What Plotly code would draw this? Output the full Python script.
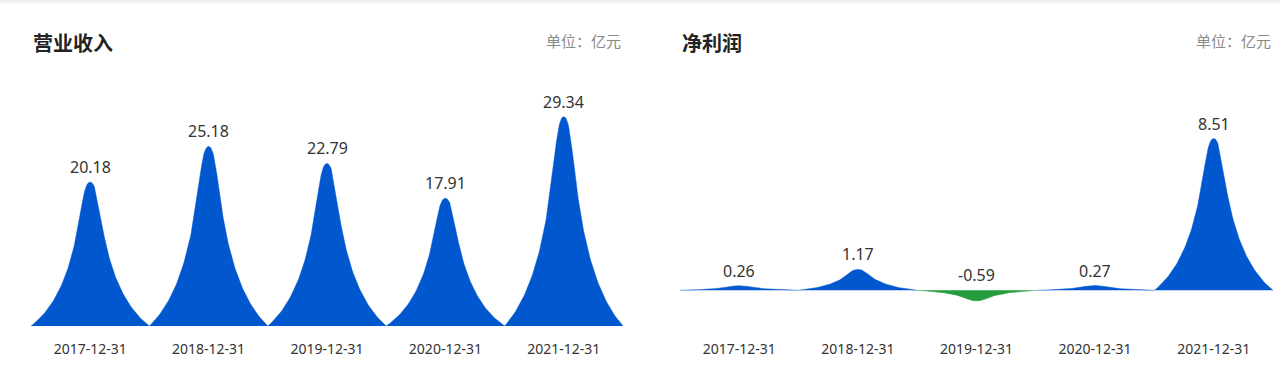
import numpy as np
import plotly.graph_objects as go

categories = ["2017-12-31", "2018-12-31", "2019-12-31", "2020-12-31", "2021-12-31"]
revenue = [20.18, 25.18, 22.79, 17.91, 29.34]
net_profit = [0.26, 1.17, -0.59, 0.27, 8.51]

BLUE = "#0057CE"
GREEN = "#249C3B"


def bez(p0, p1, p2, p3, n=80):
    t = np.linspace(0, 1, n)[:, None]
    p0, p1, p2, p3 = map(np.array, (p0, p1, p2, p3))
    return ((1 - t) ** 3) * p0 + 3 * ((1 - t) ** 2) * t * p1 + 3 * (1 - t) * t ** 2 * p2 + t ** 3 * p3


# spike symbol in unit coords: u = half-width fraction (-1..1), v = height fraction (0..1)
right = bez((1, 0), (0.1, 0.28), (0.22, 1), (0, 1))
left = right[::-1].copy()
left[:, 0] *= -1
path = np.vstack([right, left[1:]])

fig = go.Figure()


def add_spikes(vals, xa, ya):
    for i, v in enumerate(vals):
        xs = i + path[:, 0] * 0.5
        ys = v * path[:, 1]
        col = BLUE if v >= 0 else GREEN
        fig.add_trace(go.Scatter(x=xs, y=ys, mode="lines", fill="toself",
                                 fillcolor=col, line=dict(color=col, width=0.5),
                                 hoverinfo="skip", showlegend=False,
                                 xaxis=xa, yaxis=ya))
        fig.add_annotation(x=i, y=max(v, 0), xref=xa, yref=ya, text=f"{v:.2f}",
                           showarrow=False, yanchor="middle", yshift=15,
                           font=dict(family="Noto Sans, Open Sans", size=16, color="#333333"))


add_spikes(revenue, "x", "y")
add_spikes(net_profit, "x2", "y2")

ydom = [(378 - 326) / 378, (378 - 112) / 378]
xcommon = dict(tickmode="array", tickvals=list(range(5)), ticktext=categories,
               range=[-0.5, 4.5], showgrid=False, zeroline=False, showline=False,
               ticks="", ticklabelstandoff=13,
               tickfont=dict(family="Noto Sans, Open Sans", size=14, color="#333333"))
fig.update_layout(
    width=1280, height=378,
    margin=dict(l=0, r=0, t=0, b=0),
    paper_bgcolor="white", plot_bgcolor="white",
    xaxis=dict(domain=[31 / 1280, 623 / 1280], anchor="y", **xcommon),
    yaxis=dict(domain=ydom, range=[0, 30], visible=False, anchor="x"),
    xaxis2=dict(domain=[680 / 1280, 1273 / 1280], anchor="y2", **xcommon),
    yaxis2=dict(domain=ydom, range=[-2, 10], visible=False, anchor="x2"),
)

# titles
title_font = dict(family="Noto Sans CJK SC", size=20, color="#222222")
unit_font = dict(family="Noto Sans CJK SC", size=15, color="#8a8a8a")
fig.add_annotation(x=31 / 1280, y=1 - 43 / 378, xref="paper", yref="paper", text="<b>营业收入</b>",
                   showarrow=False, xanchor="left", yanchor="middle", font=title_font)
fig.add_annotation(x=623 / 1280, y=1 - 40 / 378, xref="paper", yref="paper", text="单位：亿元",
                   showarrow=False, xanchor="right", yanchor="middle", font=unit_font)
fig.add_annotation(x=680 / 1280, y=1 - 43 / 378, xref="paper", yref="paper", text="<b>净利润</b>",
                   showarrow=False, xanchor="left", yanchor="middle", font=title_font)
fig.add_annotation(x=1273 / 1280, y=1 - 40 / 378, xref="paper", yref="paper", text="单位：亿元",
                   showarrow=False, xanchor="right", yanchor="middle", font=unit_font)

# faint top shadow
for k, c in enumerate(["#ececec", "#f3f3f3", "#f8f8f8", "#fcfcfc"]):
    fig.add_shape(type="rect", xref="paper", yref="paper", x0=0, x1=1,
                  y0=1 - (k + 1) / 378, y1=1 - k / 378, line=dict(width=0), fillcolor=c, layer="below")

fig.write_html("out.html", config={"displayModeBar": False},
               post_script="document.body.style.margin='0';document.body.style.overflow='hidden';")
